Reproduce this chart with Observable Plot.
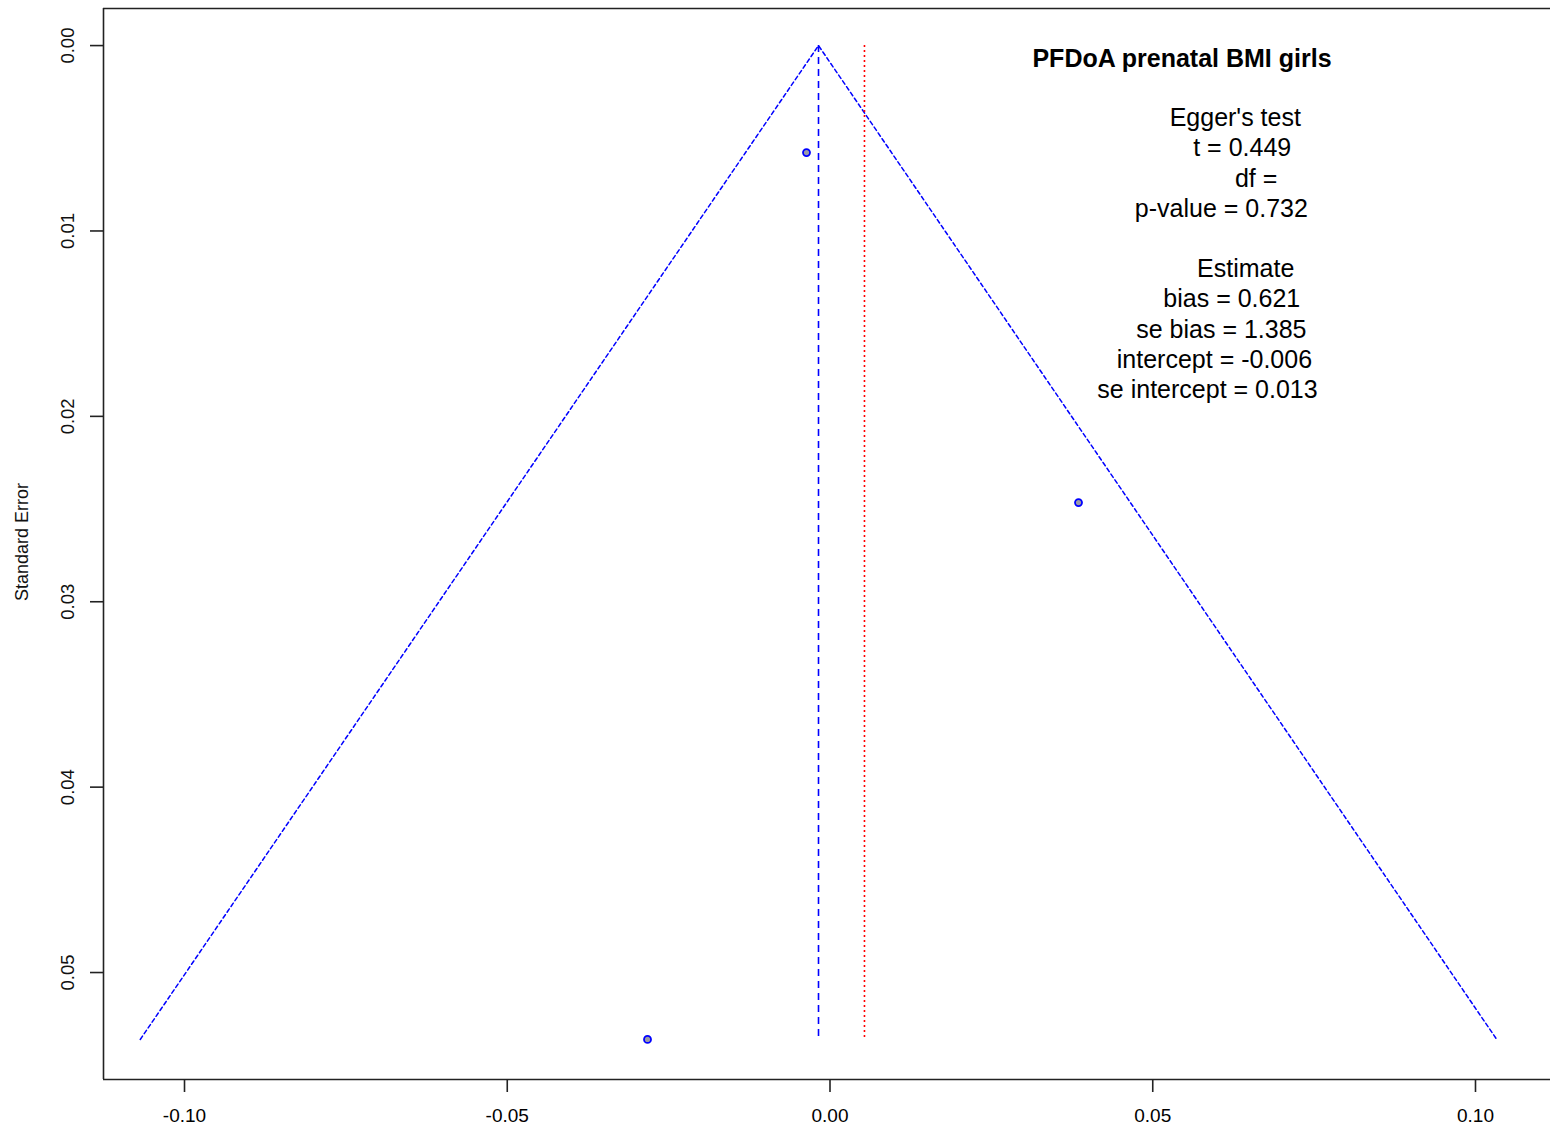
<!DOCTYPE html>
<html><head><meta charset="utf-8">
<script src="https://cdn.jsdelivr.net/npm/d3@7"></script>
<script src="https://cdn.jsdelivr.net/npm/@observablehq/plot@0.6"></script>
<style>html,body{margin:0;padding:0;background:#fff;overflow:hidden}</style>
</head><body><div id="chart"></div>
<script>
// Study estimates (effect size) and standard errors
const effectSize = [-0.00364, 0.0385, -0.02827];
const standardError = [0.00577, 0.02465, 0.05361];
// Pooled estimate (blue dashed) and comparison estimate (red dotted)
const pooledEstimate = -0.00178;
const comparisonEstimate = 0.00534;
const funnelZ = 1.96;
const xTicks = [-0.10, -0.05, 0, 0.05, 0.10];
const yTicks = [0, 0.01, 0.02, 0.03, 0.04, 0.05];
const titleText = "PFDoA prenatal BMI girls";
const statLines = [
  "        Egger's test",
  "          t = 0.449",
  "              df =",
  "    p-value = 0.732",
  "",
  "           Estimate",
  "       bias = 0.621",
  "    se bias = 1.385",
  "  intercept = -0.006",
  "se intercept = 0.013"
];
const yLabel = "Standard Error";

const xDomain = [-0.11255, 0.11162];
const yDomain = [-0.002, 0.05577];
const maxSe = d3.max(standardError);
const studies = effectSize.map((e, i) => ({e, se: standardError[i]}));
const funnel = [
  {x: pooledEstimate - funnelZ * maxSe, y: maxSe},
  {x: pooledEstimate, y: 0},
  {x: pooledEstimate + funnelZ * maxSe, y: maxSe}
];
const nb = s => s === "" ? "\u00a0" : s.replace(/^ +/, m => "\u00a0".repeat(m.length));
const statText = statLines.map(nb).join("\n");
const frameColor = "#222";

const chart = Plot.plot({
  width: 1550,
  height: 1129,
  marginLeft: 103,
  marginRight: 0,
  marginTop: 8,
  marginBottom: 50,
  style: {fontFamily: "'Liberation Sans', Arial, sans-serif", background: "white", color: "black"},
  x: {domain: xDomain},
  y: {domain: yDomain, reverse: true},
  marks: [
    Plot.ruleY(yDomain, {stroke: frameColor, strokeWidth: 1.6}),
    Plot.ruleX([xDomain[0]], {stroke: frameColor, strokeWidth: 1.6}),
    Plot.axisX(xTicks, {tickSize: 13, tickPadding: 16, fontSize: 19, stroke: frameColor, strokeWidth: 1.6, tickFormat: d => d.toFixed(2), label: null}),
    Plot.axisY(yTicks, {tickSize: 13, stroke: frameColor, strokeWidth: 1.6, tickFormat: () => "", label: null}),
    Plot.text(yTicks, {y: d => d, text: d => d.toFixed(2), frameAnchor: "left", textAnchor: "middle", lineAnchor: "middle", dx: -35, rotate: -90, fontSize: 18.5, fill: "#111"}),
    Plot.text([yLabel], {frameAnchor: "left", textAnchor: "middle", lineAnchor: "middle", dx: -81, dy: -2, rotate: -90, fontSize: 18, fill: "#111"}),
    Plot.line(funnel, {x: "x", y: "y", stroke: "#0000ff", strokeWidth: 1.5, strokeDasharray: "4,3"}),
    Plot.ruleX([pooledEstimate], {y1: 0, y2: maxSe, stroke: "#0000ff", strokeWidth: 1.6, strokeDasharray: "7,5"}),
    Plot.ruleX([comparisonEstimate], {y1: 0, y2: maxSe, stroke: "#ff0000", strokeWidth: 1.6, strokeDasharray: "2,3"}),
    Plot.dot(studies, {x: "e", y: "se", r: 3.5, fill: "#9a9aa8", stroke: "#0000ff", strokeWidth: 1.8}),
    Plot.text([titleText], {x: () => 0.05453, frameAnchor: "top", lineAnchor: "middle", dy: 50, fontSize: 25, fontWeight: "bold", textAnchor: "middle", fill: "black"}),
    Plot.text([statText], {x: () => 0.05848, frameAnchor: "top", dy: 96.25, lineAnchor: "top", lineHeight: 1.208, fontSize: 25, textAnchor: "middle", fill: "black"})
  ]
});
document.getElementById("chart").appendChild(chart);
</script>
</body></html>
